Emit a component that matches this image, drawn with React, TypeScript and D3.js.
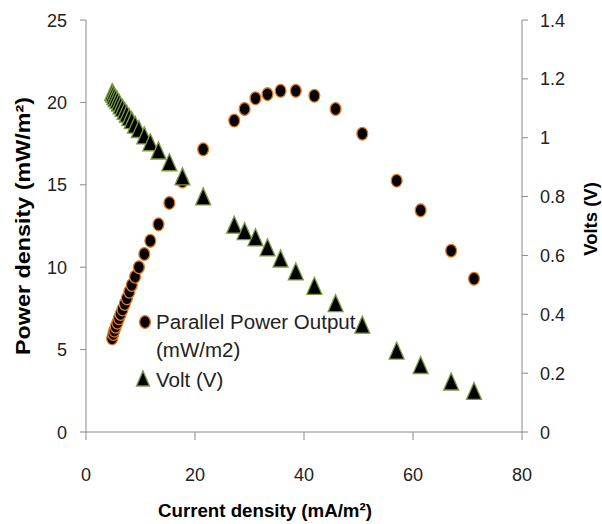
import React from "react";
import * as d3 from "d3";

const current = [4.8, 5.0, 5.2, 5.45, 5.75, 6.05, 6.35, 6.7, 7.1, 7.5, 7.95, 8.4, 9.0, 9.7, 10.7, 11.8, 13.3, 15.3, 17.7, 21.5, 27.2, 29.1, 31.1, 33.3, 35.7, 38.5, 41.9, 45.8, 50.7, 57.0, 61.4, 67.0, 71.2];
const power = [5.68, 5.95, 6.15, 6.39, 6.63, 6.9, 7.16, 7.44, 7.77, 8.11, 8.51, 8.92, 9.42, 10.0, 10.8, 11.6, 12.6, 13.9, 15.2, 17.15, 18.9, 19.6, 20.25, 20.5, 20.7, 20.7, 20.4, 19.6, 18.1, 15.25, 13.45, 11.0, 9.3];
const volts = [1.145, 1.14, 1.132, 1.125, 1.118, 1.11, 1.1, 1.092, 1.082, 1.072, 1.06, 1.05, 1.035, 1.02, 0.998, 0.975, 0.947, 0.907, 0.859, 0.791, 0.695, 0.673, 0.652, 0.618, 0.58, 0.536, 0.487, 0.428, 0.355, 0.267, 0.218, 0.162, 0.13];

const xTicks = [0, 20, 40, 60, 80];
const leftTicks = [0, 5, 10, 15, 20, 25];
const rightTicks = [0, 0.2, 0.4, 0.6, 0.8, 1, 1.2, 1.4];

const FONT = "'Liberation Sans', Arial, sans-serif";
const AXIS = "#898989";

export default function App() {
  const x = d3.scaleLinear().domain([0, 80]).range([86, 522]);
  const yL = d3.scaleLinear().domain([0, 25]).range([432, 20]);
  const yR = d3.scaleLinear().domain([0, 1.4]).range([432, 20]);

  const tri = (w: number, h: number) => {
    const p = d3.path();
    p.moveTo(0, (-h * 2) / 3);
    p.lineTo(w / 2, h / 3);
    p.lineTo(-w / 2, h / 3);
    p.closePath();
    return p.toString();
  };
  const triPath = tri(15, 17);

  return (
    <svg width={602} height={524} style={{ position: "absolute", left: 0, top: 0, background: "#fff" }} fontFamily={FONT}>
      {/* axes */}
      <line x1={x(0)} x2={x(0)} y1={yL(25)} y2={yL(0)} stroke={AXIS} />
      <line x1={x(80)} x2={x(80)} y1={yR(1.4)} y2={yR(0)} stroke={AXIS} />
      <line x1={x(0)} x2={x(80)} y1={yL(0)} y2={yL(0)} stroke={AXIS} />
      {leftTicks.map((t) => (
        <g key={"l" + t}>
          <line x1={x(0) - 6} x2={x(0)} y1={yL(t)} y2={yL(t)} stroke={AXIS} />
          <text x={67} y={yL(t) + 6.5} textAnchor="end" fontSize={18} fill="#222">{t}</text>
        </g>
      ))}
      {rightTicks.map((t) => (
        <g key={"r" + t}>
          <line x1={x(80)} x2={x(80) + 6} y1={yR(t)} y2={yR(t)} stroke={AXIS} />
          <text x={540} y={yR(t) + 6.5} textAnchor="start" fontSize={18} fill="#222">{d3.format("~g")(t)}</text>
        </g>
      ))}
      {xTicks.map((t) => (
        <g key={"x" + t}>
          <line x1={x(t)} x2={x(t)} y1={yL(0)} y2={yL(0) + 8} stroke={AXIS} />
          <text x={x(t)} y={480.5} textAnchor="middle" fontSize={18} fill="#222">{t}</text>
        </g>
      ))}
      {/* titles */}
      <text x={158} y={517} fontSize={18.7} fontWeight="bold" fill="#000">Current density (mA/m²)</text>
      <text transform={`translate(30,226) rotate(-90)`} textAnchor="middle" fontSize={20} fontWeight="bold" fill="#000" textLength={258} lengthAdjust="spacingAndGlyphs">Power density (mW/m²)</text>
      <text transform={`translate(597,219) rotate(-90)`} textAnchor="middle" fontSize={18.5} fontWeight="bold" fill="#000">Volts (V)</text>
      {/* power series */}
      {current.map((c, i) => (
        <ellipse key={"p" + i} cx={x(c)} cy={yL(power[i])} rx={5.4} ry={6.4} fill="#000" stroke="#E8771E" strokeWidth={1.3} />
      ))}
      {/* volt series */}
      {current.map((c, i) => (
        <path key={"v" + i} d={triPath} transform={`translate(${x(c)},${yR(volts[i])})`} fill="#000" stroke="#7A9A3E" strokeWidth={1.3} />
      ))}
      {/* legend */}
      <ellipse cx={145} cy={322} rx={5.4} ry={6.4} fill="#000" stroke="#E8771E" strokeWidth={1.3} />
      <text x={156} y={329} fontSize={20.5} fill="#222">Parallel Power Output</text>
      <text x={156} y={357} fontSize={20.5} fill="#222">(mW/m2)</text>
      <path d={tri(13, 15)} transform="translate(143,381)" fill="#000" stroke="#7A9A3E" strokeWidth={1.3} />
      <text x={156} y={387} fontSize={20.5} fill="#222">Volt (V)</text>
    </svg>
  );
}
